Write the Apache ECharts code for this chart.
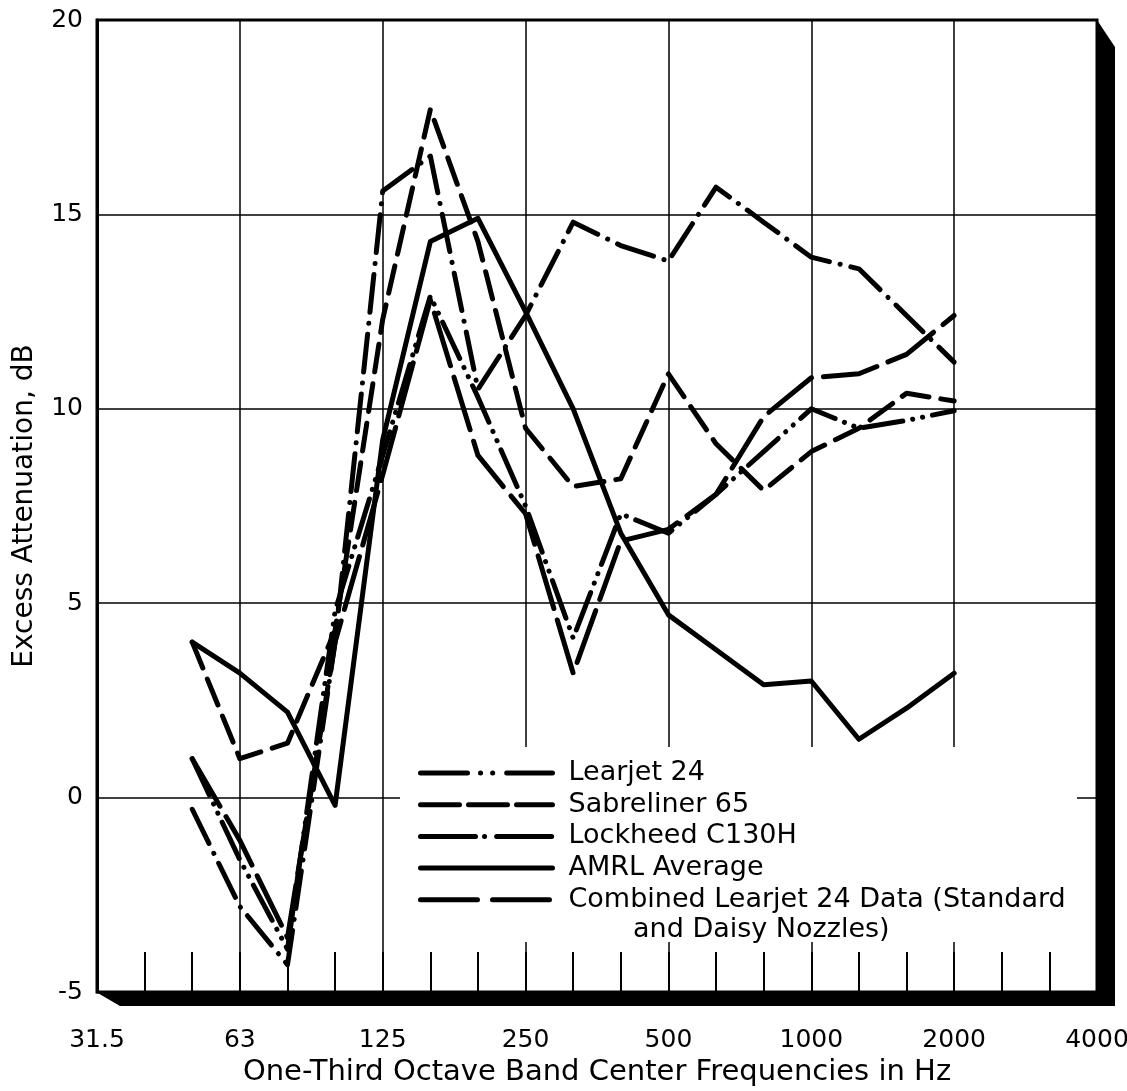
<!DOCTYPE html>
<html><head><meta charset="utf-8">
<script src="https://cdn.jsdelivr.net/npm/echarts/dist/echarts.min.js"></script>
<style>html,body{margin:0;padding:0;background:#fff}#c{width:1127px;height:1091px}</style>
</head><body><div id="c"></div>
<script>
// One-third octave band centre frequencies (x categories)
const bands = ['31.5','40','50','63','80','100','125','160','200','250','315','400','500','630','800','1000','1250','1600','2000','2500','3150','4000'];
// Series values (dB), one per band, null where no data
const learjet24  = [null,null, 1.0,-1.6,-3.9, 4.8, 8.8,12.9,10.3, 7.5, 4.1, 7.3, 6.8, 7.8, 8.9,10.0, 9.5, 9.7, 9.95,null,null,null];
const sabreliner = [null,null, 4.0, 1.0, 1.4, 4.3,12.3,17.7,14.3, 9.5, 8.0, 8.2,10.9, 9.1, 7.9, 8.9, 9.5,10.4,10.2,null,null,null];
const lockheed   = [null,null,-0.3,-2.8,-4.3, 4.0,15.6,16.5,10.5,12.4,14.8,14.2,13.8,15.7,14.8,13.9,13.6,12.4,11.2,null,null,null];
const amrlAvg    = [null,null, 4.0, 3.2, 2.2,-0.2, 9.2,14.3,14.9,12.5,10.0, 6.8, 4.7, 3.8, 2.9, 3.0, 1.5, 2.3, 3.2,null,null,null];
const combined   = [null,null, 1.0,-1.1,-3.6, 4.0, 8.3,12.8, 8.8, 7.3, 3.2, 6.6, 6.9, 7.8, 9.8,10.8,10.9,11.4,12.4,null,null,null];
const seriesNames = ['Learjet 24','Sabreliner 65','Lockheed C130H','AMRL Average','Combined Learjet 24 Data (Standard and Daisy Nozzles)'];
const combinedLegendLines = ['Combined Learjet 24 Data (Standard', 'and Daisy Nozzles)'];

const FONT = 'DejaVu Sans';
const G = {left: 97, top: 20, right: 30, bottom: 99};
const W = 1127, H = 1091;
const gx0 = G.left, gy0 = G.top, gx1 = W - G.right, gy1 = H - G.bottom;

const chart = echarts.init(document.getElementById('c'), null, {renderer: 'canvas'});

function mkSeries(name, data, dash) {
  return {
    name: name, type: 'line', data: data, symbol: 'none', connectNulls: false,
    lineStyle: {color: '#000', width: 5, type: dash, cap: 'round', join: 'round'},
    itemStyle: {color: '#000'},
    emphasis: {disabled: true}
  };
}

const LEG = {left: 413, top: 753, iw: 132, rowH: 30, gap: 1.7, font: 27};

const option = {
  animation: false,
  backgroundColor: '#fff',
  grid: {left: G.left, top: G.top, right: G.right, bottom: G.bottom, show: true,
         borderColor: '#000', borderWidth: 3, outerBoundsMode: 'none', containLabel: false},
  xAxis: {
    type: 'category', data: bands, boundaryGap: false,
    axisLine: {show: false, onZero: false},
    axisTick: {show: true, inside: true, length: 40, interval: 0, lineStyle: {color: '#000', width: 2}},
    axisLabel: {interval: 2, margin: 36, fontSize: 25, color: '#000', fontFamily: FONT},
    splitLine: {show: true, interval: 2, lineStyle: {color: '#000', width: 1.5}},
    name: 'One-Third Octave Band Center Frequencies in Hz',
    nameLocation: 'middle', nameGap: 64,
    nameTextStyle: {fontSize: 29, color: '#000', fontFamily: FONT}
  },
  yAxis: {
    type: 'value', min: -5, max: 20, interval: 5,
    axisLine: {show: true, onZero: false, lineStyle: {color: '#000', width: 3}},
    axisTick: {show: false},
    axisLabel: {margin: 14, fontSize: 25, color: '#000', fontFamily: FONT},
    splitLine: {show: true, lineStyle: {color: '#000', width: 1.5}},
    name: 'Excess Attenuation, dB', nameLocation: 'middle', nameGap: 58,
    nameTextStyle: {fontSize: 28, color: '#000', fontFamily: FONT}
  },
  legend: {
    orient: 'vertical', left: LEG.left, top: LEG.top,
    itemWidth: LEG.iw, itemHeight: 14, itemGap: LEG.gap,
    selectedMode: false,
    itemStyle: {opacity: 0},
    lineStyle: {width: 5},
    textStyle: {fontSize: LEG.font, color: '#000', fontFamily: FONT, lineHeight: LEG.rowH, padding: [0, 0, 0, 11]},
    formatter: function (n) { return n === seriesNames[4] ? combinedLegendLines[0] : n; },
    data: [
      {name: seriesNames[0], lineStyle: {type: [47, 13, 0.1, 12, 0.1, 14], width: 5, cap: 'round'}},
      {name: seriesNames[1], lineStyle: {type: [39, 9], width: 5, cap: 'round'}},
      {name: seriesNames[2], lineStyle: {type: [55, 9, 0.1, 12], width: 5, cap: 'round'}},
      {name: seriesNames[3], lineStyle: {type: 'solid', width: 5, cap: 'round'}},
      {name: seriesNames[4], lineStyle: {type: [57, 15], width: 5, cap: 'round'}}
    ]
  },
  series: [
    mkSeries(seriesNames[0], learjet24, [40, 10, 0.1, 10, 0.1, 10]),
    mkSeries(seriesNames[1], sabreliner, [28, 12]),
    mkSeries(seriesNames[2], lockheed, [38, 11, 0.1, 11]),
    mkSeries(seriesNames[3], amrlAvg, 'solid'),
    mkSeries(seriesNames[4], combined, [55, 12])
  ],
  graphic: [
    {type: 'rect', z: 1, silent: true,
     shape: {x: 400, y: 747, width: 677, height: 195}, style: {fill: '#fff'}},
    {type: 'text', z: 5, silent: true, left: 633,
     top: LEG.top + 4 * (LEG.rowH + LEG.gap) + LEG.rowH + 5,
     style: {text: combinedLegendLines[1], fontSize: LEG.font, fontFamily: FONT, fill: '#000', lineHeight: LEG.rowH}},
    {type: 'polygon', z: 10, silent: true,
     shape: {points: [[gx0 - 1, gy1], [gx1, gy1], [gx1, gy0], [gx1 + 18, gy0 + 27], [gx1 + 18, gy1 + 14], [gx0 + 23, gy1 + 14]]},
     style: {fill: '#000'}}
  ]
};
chart.setOption(option);
</script></body></html>
